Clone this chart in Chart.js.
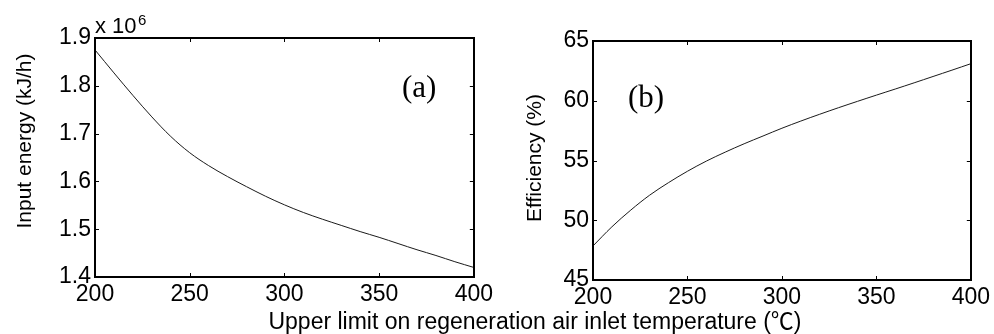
<!DOCTYPE html>
<html><head><meta charset="utf-8">
<script src="https://cdn.jsdelivr.net/npm/chart.js@4.4.1/dist/chart.umd.min.js"></script>
<style>
html,body{margin:0;padding:0;background:#fff;}
#wrap{position:relative;width:994px;height:334px;overflow:hidden;background:#fff;}
canvas{position:absolute;top:0;}
#c1{left:0}
#c2{left:497px}
#xt{position:absolute;top:308px;left:535px;transform:translateX(-50%);white-space:nowrap;font:23px/23px "Liberation Sans",Arial,sans-serif;color:#000;}
#xt span{font-family:"Noto Sans CJK SC","Liberation Sans",sans-serif;}
</style></head><body>
<div id="wrap">
<canvas id="c1" width="497" height="334"></canvas>
<canvas id="c2" width="497" height="334"></canvas>
<div id="xt">Upper limit on regeneration air inlet temperature (<span>℃</span>)</div>
</div>
<script>
// ---- data ----
const temperatures = [200,210,220,230,240,250,260,270,280,290,300,310,320,330,340,350,360,370,380,390,400];
const inputEnergy = [1.875,1.827,1.780,1.735,1.694,1.660,1.633,1.610,1.589,1.569,1.551,1.535,1.521,1.508,1.495,1.483,1.470,1.457,1.445,1.432,1.420]; // x 10^6 kJ/h
const efficiency = [47.85,49.45,50.85,52.1,53.15,54.1,54.95,55.7,56.4,57.05,57.7,58.3,58.87,59.42,59.95,60.47,60.98,61.5,62.03,62.56,63.1]; // %
const xTicks = [200,250,300,350,400];
const energyTicks = [1.4,1.5,1.6,1.7,1.8,1.9];
const efficiencyTicks = [45,50,55,60,65];

const SANS = '"Liberation Sans", Arial, sans-serif';
const SERIF = '"Liberation Serif", "Times New Roman", serif';

const boxPlugin = {
  id: 'boxTicks',
  afterDraw(chart) {
    const {ctx, chartArea: a, scales: {x, y}} = chart;
    ctx.save();
    ctx.strokeStyle = '#000';
    ctx.lineWidth = 1;
    ctx.beginPath();
    x.ticks.forEach(t => {
      const px = Math.round(x.getPixelForValue(t.value)) + 0.5;
      ctx.moveTo(px, a.bottom); ctx.lineTo(px, a.bottom - 4);
      ctx.moveTo(px, a.top); ctx.lineTo(px, a.top + 4);
    });
    y.ticks.forEach(t => {
      const py = Math.round(y.getPixelForValue(t.value)) + 0.5;
      ctx.moveTo(a.left, py); ctx.lineTo(a.left + 4, py);
      ctx.moveTo(a.right, py); ctx.lineTo(a.right - 4, py);
    });
    ctx.stroke();
    ctx.lineWidth = 2;
    ctx.strokeRect(Math.round(a.left), Math.round(a.top), Math.round(a.right - a.left), Math.round(a.bottom - a.top));
    (chart.options.plugins.notes || []).forEach(n => {
      ctx.save();
      ctx.fillStyle = '#000';
      ctx.font = n.font;
      ctx.textAlign = n.align || 'left';
      ctx.textBaseline = n.baseline || 'alphabetic';
      ctx.translate(n.x, n.y);
      if (n.rot) ctx.rotate(n.rot);
      ctx.fillText(n.text, 0, 0);
      ctx.restore();
    });
    ctx.restore();
  }
};

function makeChart(id, values, yMin, yMax, yTicks, fmt, yWidth, top, bottomH, notes) {
  return new Chart(document.getElementById(id), {
    type: 'line',
    data: {
      labels: temperatures,
      datasets: [{
        data: temperatures.map((t, i) => ({x: t, y: values[i]})),
        borderColor: '#1a1a1a',
        borderWidth: 1,
        pointRadius: 0,
        fill: false,
        tension: 0.35
      }]
    },
    options: {
      responsive: false,
      animation: false,
      devicePixelRatio: 1,
      layout: {padding: {top: top, right: 23, left: 0, bottom: 0}},
      plugins: {legend: {display: false}, tooltip: {enabled: false}, notes: notes},
      scales: {
        x: {
          type: 'linear', min: 200, max: 400,
          afterBuildTicks: s => { s.ticks = xTicks.map(v => ({value: v})); },
          afterFit: s => { s.height = bottomH; },
          grid: {display: false, drawTicks: false},
          border: {display: false},
          ticks: {color: '#000', font: {family: SANS, size: 23}, padding: 4, maxRotation: 0,
                  callback: v => String(v)}
        },
        y: {
          type: 'linear', min: yMin, max: yMax,
          afterBuildTicks: s => { s.ticks = yTicks.map(v => ({value: v})); },
          afterFit: s => { s.width = yWidth; },
          grid: {display: false, drawTicks: false},
          border: {display: false},
          ticks: {color: '#000', font: {family: SANS, size: 23}, padding: 4,
                  callback: fmt}
        }
      }
    },
    plugins: [boxPlugin]
  });
}

makeChart('c1', inputEnergy, 1.4, 1.9, energyTicks, v => v.toFixed(1), 95, 38, 57, [
  {text: 'Input energy (kJ/h)', x: 31, y: 141, rot: -Math.PI/2, align: 'center', font: '21px ' + SANS},
  {text: 'x 10', x: 95, y: 33, font: '22px ' + SANS},
  {text: '6', x: 138, y: 25, font: '15px ' + SANS},
  {text: '(a)', x: 402, y: 97, font: '31px ' + SERIF}
]);
makeChart('c2', efficiency, 45, 65, efficiencyTicks, v => String(Math.round(v)), 96, 41, 54, [
  {text: 'Efficiency (%)', x: 44, y: 158, rot: -Math.PI/2, align: 'center', font: '21px ' + SANS},
  {text: '(b)', x: 131, y: 107, font: '31px ' + SERIF}
]);
</script>
</body></html>
